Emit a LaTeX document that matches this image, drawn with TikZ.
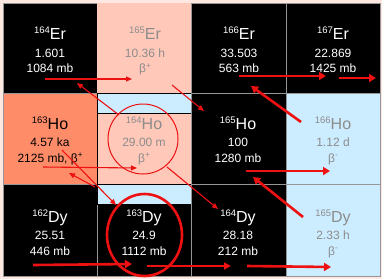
\documentclass[tikz,border=0pt]{standalone}
\usepackage{fontspec}
\setmainfont{Liberation Sans}
\usetikzlibrary{arrows.meta}
\definecolor{pinkc}{RGB}{255,200,185}
\definecolor{salmonc}{RGB}{255,140,105}
\definecolor{bluec}{RGB}{204,236,255}
\definecolor{marginc}{RGB}{255,232,226}
\definecolor{redc}{RGB}{238,17,17}
\definecolor{grayt}{RGB}{140,140,140}
\definecolor{gridc}{RGB}{150,150,150}
\newcommand\isot[2]{{\fontsize{9.5}{10}\selectfont\raisebox{6pt}{#1}}{\fontsize{16}{17}\selectfont #2}}
\newcommand\bp{β{\fontsize{8}{8}\selectfont\raisebox{4.5pt}{+}}}
\newcommand\bm{β{\fontsize{8}{8}\selectfont\raisebox{4.5pt}{-}}}
\tikzset{
  cellbox/.style={draw=gridc, line width=0.6pt},
  txt/.style={anchor=base, inner sep=0pt, font=\fontsize{12}{14}\selectfont},
  white/.style={text=white},
  dark/.style={text=black},
  pale/.style={text=grayt},
  thinarr/.style={draw=redc, line width=1.1pt, -{Triangle[length=6pt,width=5pt]}},
  thickarr/.style={draw=redc, line width=2.6pt, -{Triangle[length=7pt,width=8pt]}},
  midarr/.style={draw=redc, line width=1.8pt, -{Triangle[length=7pt,width=7pt]}},
}
\newcommand\nuc[8]{%
  \node[txt,#8] (#1a) at (#2,#3) {#4};
  \node[txt,#8] (#1b) at (#2,#3+17.5) {#5};
  \node[txt,#8] (#1c) at (#2,#3+33) {#6};
  \coordinate (#1) at (#2,#3+#7);
}
\begin{document}
\begin{tikzpicture}[x=1pt,y=-1pt]
\useasboundingbox (0,0) rectangle (382,279);
\fill[marginc] (0,0) rectangle (382,279);
% column 1
\fill[black] (3,3) rectangle (97,93);
\fill[salmonc] (3,93) rectangle (97,184);
\fill[black] (3,184) rectangle (97,276);
% column 2
\fill[pinkc] (97,3) rectangle (191,93);
\fill[bluec] (97,93) rectangle (191,113);
\fill[pinkc] (97,113) rectangle (191,184);
\fill[bluec] (97,184) rectangle (191,204);
\fill[black] (97,204) rectangle (191,276);
% column 3
\fill[black] (191,3) rectangle (286,276);
% column 4
\fill[black] (286,3) rectangle (380,93);
\fill[bluec] (286,93) rectangle (380,276);
% grid
\draw[cellbox] (3,3) -- (3,276) -- (380,276) -- (380,3) -- (191,3) (97,3) -- (3,3);
\draw[cellbox] (97,204) -- (97,276) (191,3) -- (191,276) (286,3) -- (286,276);
\draw[cellbox] (191,93) -- (380,93) (191,184) -- (380,184) (3,184) -- (97,184) (3,93) -- (97,93);
\draw[white, line width=0.6pt] (97,93) -- (191,93) (97,113) -- (191,113) (97,204) -- (191,204)
  (97,93) -- (97,204) (97,184) -- (191,184);
% nuclides
\nuc{er164}{50}{39.5}{\isot{164}{Er}}{1.601}{1084 mb}{0}{white}
\nuc{er165}{145}{39.5}{\isot{165}{Er}}{10.36 h}{\bp}{0}{pale}
\nuc{er166}{239}{39.5}{\isot{166}{Er}}{33.503}{563 mb}{0}{white}
\nuc{er167}{333}{39.5}{\isot{167}{Er}}{22.869}{1425 mb}{0}{white}
\nuc{ho163}{50}{129}{\isot{163}{Ho}}{4.57 ka}{2125 mb, \bp}{0}{dark}
\nuc{ho164}{144}{129}{\isot{164}{Ho}}{29.00 m}{\bp}{0}{pale}
\nuc{ho165}{238}{129}{\isot{165}{Ho}}{100}{1280 mb}{0}{white}
\nuc{ho166}{333}{129}{\isot{166}{Ho}}{1.12 d}{\bm}{0}{pale}
\nuc{dy162}{50}{222}{\isot{162}{Dy}}{25.51}{446 mb}{0}{white}
\nuc{dy163}{144}{222}{\isot{163}{Dy}}{24.9}{1112 mb}{0}{white}
\nuc{dy164}{238}{222}{\isot{164}{Dy}}{28.18}{212 mb}{0}{white}
\nuc{dy165}{333}{222}{\isot{165}{Dy}}{2.33 h}{\bm}{0}{pale}
% circles
\draw[redc, line width=1pt] (143,139) circle (35);
\draw[redc, line width=2.6pt] (144.5,235) ellipse (37.5 and 41);
% arrow end points
\coordinate (p1) at (45,79);   \coordinate (q1) at (132,79);
\coordinate (p2) at (239,76);  \coordinate (q2) at (326,76);
\coordinate (p3) at (339,78);  \coordinate (q3) at (376,78);
\coordinate (p4) at (43,167);  \coordinate (q4) at (137,168);
\coordinate (p5) at (246,171); \coordinate (q5) at (330,171);
\coordinate (p6) at (33,265);  \coordinate (q6) at (132,264);
\coordinate (p7) at (147,266); \coordinate (q7) at (231,266);
\coordinate (p8) at (247,266); \coordinate (q8) at (331,267);
\coordinate (r1) at (119,115); \coordinate (s1) at (77,83);
\coordinate (r2) at (172,85);  \coordinate (s2) at (204,111);
\coordinate (r3) at (301,122); \coordinate (s3) at (251,86);
\coordinate (r4) at (303,217); \coordinate (s4) at (253,177);
\coordinate (r5) at (167,167); \coordinate (s5) at (218,209);
\coordinate (r6) at (62,150);  \coordinate (s6) at (116,205);
\coordinate (r7) at (95,187);  \coordinate (s7) at (69,173);
% arrows
\draw[thinarr] (p1) -- (q1);
\draw[thickarr] (p2) -- (q2);
\draw[thickarr] (p3) -- (q3);
\draw[thinarr] (p4) -- (q4);
\draw[thickarr] (p5) -- (q5);
\draw[thickarr] (p6) -- (q6);
\draw[midarr] (p7) -- (q7);
\draw[thickarr] (p8) -- (q8);
\draw[thinarr] (r1) -- (s1);
\draw[thinarr] (r2) -- (s2);
\draw[thickarr] (r3) -- (s3);
\draw[thickarr] (r4) -- (s4);
\draw[thinarr] (r5) -- (s5);
\draw[thinarr] (r6) -- (s6);
\draw[thinarr] (r7) -- (s7);
\end{tikzpicture}
\end{document}
